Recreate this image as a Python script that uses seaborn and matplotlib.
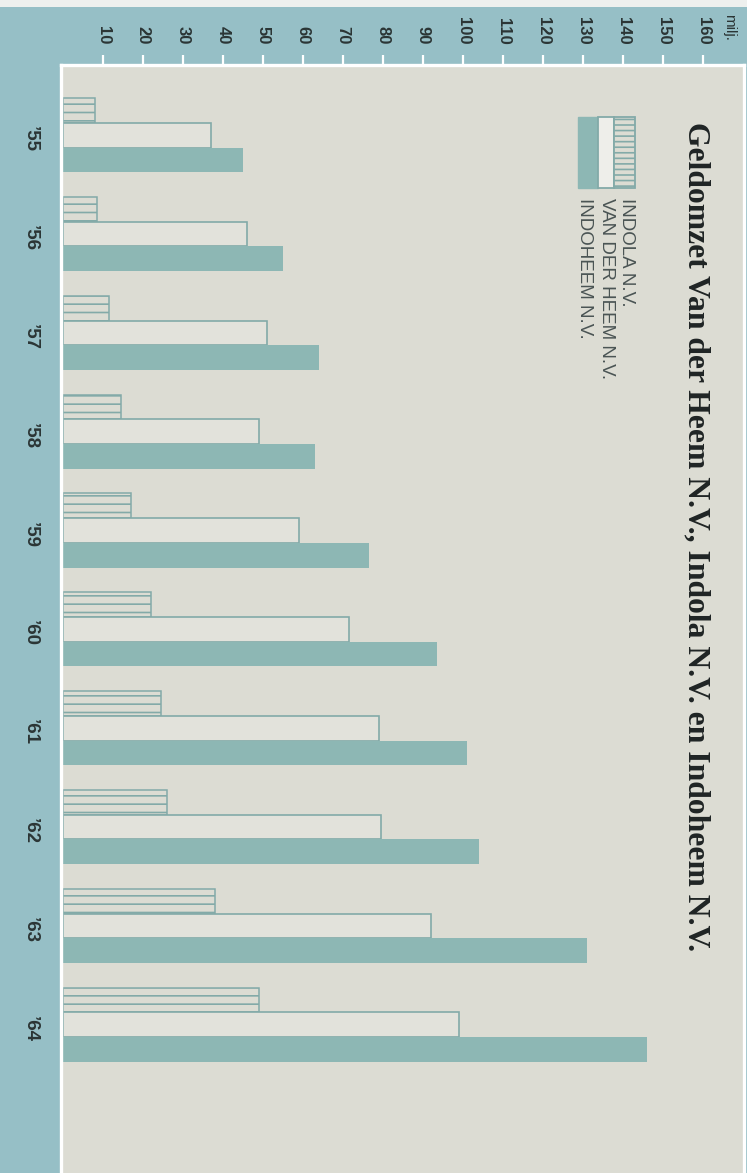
import matplotlib
matplotlib.use("Agg")
import matplotlib.pyplot as plt
import seaborn as sns
import pandas as pd
from matplotlib.patches import Rectangle
from matplotlib.transforms import ScaledTranslation

# ---------------- data ----------------
years = ["\u201955", "\u201956", "\u201957", "\u201958", "\u201959",
         "\u201960", "\u201961", "\u201962", "\u201963", "\u201964"]
indola = [8, 8.5, 11.5, 14.5, 17, 22, 24.5, 26, 38, 49]
van_der_heem = [37, 46, 51, 49, 59, 71.5, 79, 79.5, 92, 99]
indoheem = [45, 55, 64, 63, 76.5, 93.5, 101, 104, 131, 146]
companies = ["INDOLA N.V.", "VAN DER HEEM N.V.", "INDOHEEM N.V."]
value_ticks = list(range(10, 161, 10))
unit_label = "milj."
title = "Geldomzet Van der Heem N.V., Indola N.V. en Indoheem N.V."

df = pd.DataFrame({
    "year": years * 3,
    "company": [companies[0]] * 10 + [companies[1]] * 10 + [companies[2]] * 10,
    "value": indola + van_der_heem + indoheem,
})

# ---------------- style ----------------
BAND = "#96bfc6"
PANEL = "#dcdcd3"
LIGHT = "#e2e2db"
SOLID = "#8db7b4"
EDGE = "#83aaa8"
TEXT = "#2b3535"

sns.set_theme(style="white")
plt.rcParams["font.family"] = ["Liberation Sans", "DejaVu Sans"]
plt.rcParams["hatch.linewidth"] = 1.2

W, H = 747, 1173
fig = plt.figure(figsize=(W / 100, H / 100), dpi=100, facecolor=BAND)


def fx(px):
    return px / W


def fy(py):
    return 1 - py / H


# thin light strip at very top
fig.add_artist(Rectangle((0, fy(7)), 1, 7 / H, transform=fig.transFigure,
                         facecolor="#eef0ee", edgecolor="none", zorder=0))

left_px, right_px, top_px = 61, 744, 65
ax = fig.add_axes([fx(left_px), 0, fx(right_px - left_px), (H - top_px) / H])
ax.set_facecolor(PANEL)

sns.barplot(data=df, y="year", x="value", hue="company", hue_order=companies,
            order=years, orient="h", width=0.75, gap=0, dodge=True,
            legend=False, ax=ax, linewidth=0, saturation=1,
            palette=[LIGHT, LIGHT, SOLID])

styles = [
    dict(facecolor=PANEL, edgecolor=EDGE, hatch="--", linewidth=1.1),
    dict(facecolor=LIGHT, edgecolor=EDGE, hatch=None, linewidth=1.2),
    dict(facecolor=SOLID, edgecolor="none", hatch=None, linewidth=0),
]
for cont, st in zip(ax.containers, styles):
    for p in cont:
        p.set_facecolor(st["facecolor"])
        p.set_edgecolor(st["edgecolor"])
        p.set_linewidth(st["linewidth"])
        if st["hatch"]:
            p.set_hatch(st["hatch"])

# scales: 0 at x=63px, 4 px per unit
ax.set_xlim(-0.5, (right_px - 63) / 4)
ax.set_ylim(10.5, -0.71)
ax.set_xlabel("")
ax.set_ylabel("")

ax.xaxis.tick_top()
ax.set_xticks(value_ticks)
ax.set_xticklabels([str(v) for v in value_ticks])
ax.tick_params(axis="x", top=True, bottom=False, direction="out", length=7.5,
               width=1.6, color="white", pad=7, labelsize=12,
               labelrotation=-90, labelcolor=TEXT)
for lab in ax.get_xticklabels():
    lab.set_fontweight("bold")
ax.tick_params(axis="y", left=False, length=0, pad=16, labelsize=13.5,
               labelrotation=-90, labelcolor=TEXT)
shift = ScaledTranslation(0, -4 / 100, fig.dpi_scale_trans)
for lab in ax.get_yticklabels():
    lab.set_va("center")
    lab.set_fontweight("bold")
    lab.set_transform(lab.get_transform() + shift)

for s in ["left", "top", "right"]:
    ax.spines[s].set_visible(True)
    ax.spines[s].set_color("white")
    ax.spines[s].set_linewidth(2.4)
ax.spines["bottom"].set_visible(False)

# unit label
fig.text(fx(729), fy(14), unit_label, rotation=-90, rotation_mode="anchor",
         ha="left", va="center", fontsize=11, color=TEXT)

# title
fig.text(fx(696), fy(122), title, rotation=-90, rotation_mode="anchor",
         ha="left", va="center", fontsize=22.8, fontweight="bold",
         family=["Liberation Serif", "DejaVu Serif"], color="#1f2424")

# legend swatch
y0, y1 = 117, 188
fig.add_artist(Rectangle((fx(578), fy(y1)), fx(20), (y1 - y0) / H,
                         transform=fig.transFigure, facecolor=SOLID,
                         edgecolor=SOLID, linewidth=1))
fig.add_artist(Rectangle((fx(598), fy(y1)), fx(16), (y1 - y0) / H,
                         transform=fig.transFigure, facecolor="#eeeeea",
                         edgecolor=EDGE, linewidth=1.3))
fig.add_artist(Rectangle((fx(614), fy(y1)), fx(21), (y1 - y0) / H,
                         transform=fig.transFigure, facecolor=PANEL,
                         edgecolor=EDGE, linewidth=1.3, hatch="---"))

for name, xpx in zip(companies, [627, 606, 585]):
    fig.text(fx(xpx), fy(198), name, rotation=-90, rotation_mode="anchor",
             ha="left", va="center", fontsize=13.5, color="#4a5454")

fig.savefig("out.png", dpi=100, facecolor=BAND)
